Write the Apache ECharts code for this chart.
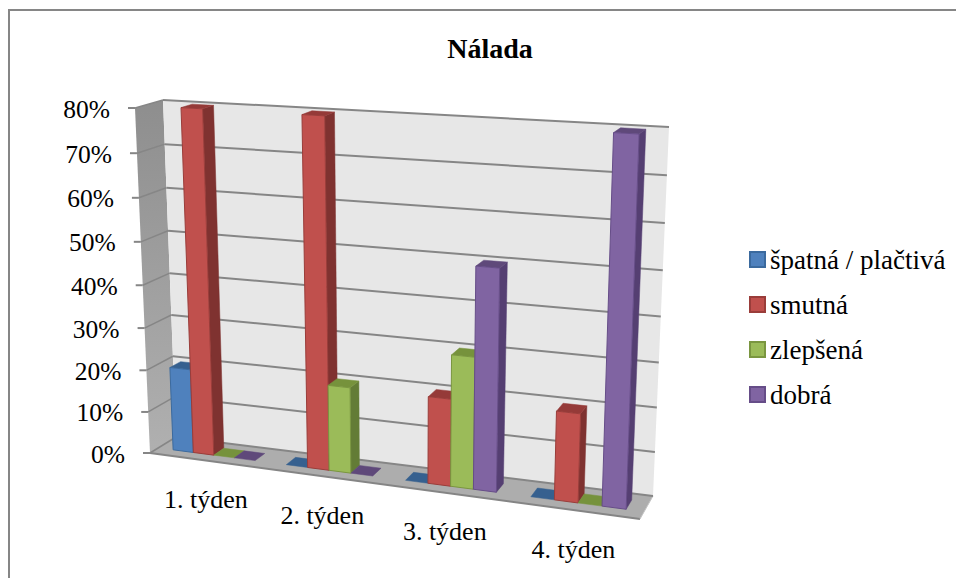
<!DOCTYPE html>
<html>
<head>
<meta charset="utf-8">
<style>html,body{margin:0;padding:0;background:#fff}#chart{width:956px;height:578px}</style>
<script src="https://cdn.jsdelivr.net/npm/echarts@6/dist/echarts.min.js"></script>
</head>
<body>
<div id="chart"></div>
<script>
// Share of patients per mood, per week
const categories = ['1. týden', '2. týden', '3. týden', '4. týden'];
const yTicks = [0, 10, 20, 30, 40, 50, 60, 70, 80];
const spatna = [20, 0, 0, 0];
const smutna = [80, 80, 20, 20];
const zlepsena = [0, 20, 30, 0];
const dobra = [0, 0, 50, 80];

const moods = [
  { name: 'špatná / plačtivá', values: spatna, front: '#4F81BD', side: '#3A6391', top: '#36608F', edge: '#3B6A9E' },
  { name: 'smutná', values: smutna, front: '#C0504D', side: '#7F3230', top: '#953A38', edge: '#9A3D3A' },
  { name: 'zlepšená', values: zlepsena, front: '#9BBB59', side: '#637C36', top: '#76923C', edge: '#7A9640' },
  { name: 'dobrá', values: dobra, front: '#8064A2', side: '#553F72', top: '#5F497A', edge: '#664D88' }
];

const FONT = '"Liberation Serif", "Times New Roman", serif';

// Corners of the 3D box, projected: front plane and back plane
const frontPlane = { bl: [150, 453], br: [640, 519], tl: [135, 108], tr: [653, 139] };
const backPlane = { bl: [176, 437], br: [653, 496], tl: [163, 100], tr: [669, 127] };
const BAR_DEPTH = [0.32, 0.73];
const GAP_SHARE = 0.27;

const mix = (a, b, k) => [a[0] + (b[0] - a[0]) * k, a[1] + (b[1] - a[1]) * k];
const warpU = u => u - 0.1 * u * (1 - u);
const warpT = t => t - 0.055 * t * (1 - t);

// u across the categories, t up the value axis, d from front to back (all 0..1)
function project(u, t, d) {
  const U = warpU(u), T = warpT(t);
  const onPlane = p => mix(mix(p.bl, p.br, U), mix(p.tl, p.tr, U), T);
  return mix(onPlane(frontPlane), onPlane(backPlane), d);
}

// Normalised position of a data point inside the hidden cartesian grid
function toUnit(params, api, cat, val) {
  const c = params.coordSys;
  const p = api.coord([cat, val]);
  return { u: (p[0] - c.x) / c.width, t: (c.y + c.height - p[1]) / c.height };
}

const poly = (points, fill, stroke, lineWidth) => ({
  type: 'polygon', silent: true, shape: { points },
  style: { fill, stroke: stroke || fill, lineWidth: lineWidth === undefined ? 1 : lineWidth }
});
const line = (a, b, stroke, lineWidth) => ({
  type: 'line', silent: true, shape: { x1: a[0], y1: a[1], x2: b[0], y2: b[1] },
  style: { stroke, lineWidth }
});
const label = (text, x, y, align, size) => ({
  type: 'text', silent: true,
  style: { text, x, y, fill: '#000', font: size + 'px ' + FONT, textAlign: align, textVerticalAlign: 'middle' }
});

function renderBox() {
  const P = project;
  return {
    type: 'group',
    children: [
      poly([P(0, 0, 0), P(0, 1, 0), P(0, 1, 1), P(0, 0, 1)], {
        type: 'linear', x: 0, y: 0, x2: 0, y2: 1,
        colorStops: [{ offset: 0, color: '#8E8E8E' }, { offset: 1, color: '#B0B0B0' }]
      }, 'none', 0),
      poly([P(0, 0, 1), P(1, 0, 1), P(1, 1, 1), P(0, 1, 1)], '#E7E7E7', 'none', 0),
      poly([P(0, 0, 0), P(1, 0, 0), P(1, 0, 1), P(0, 0, 1)], '#ADADAD', 'none', 0),
      line(P(0, 0, 0), P(1, 0, 0), '#858585', 2),
      line(P(1, 0, 0), P(1, 0, 1), '#C4C4C4', 1)
    ]
  };
}

function renderGrid(params, api) {
  const { t } = toUnit(params, api, 0, api.value(1));
  const P = project;
  const a = P(0, t, 0);
  return {
    type: 'group',
    children: [
      line(P(0, t, 1), P(1, t, 1), '#868686', 2),
      line(a, P(0, t, 1), '#868686', 1.5),
      line([a[0] - 7, a[1]], a, '#868686', 2),
      label(api.value(1) + '%', a[0] - 25, a[1] + 1, 'right', 25.5)
    ]
  };
}

function renderCategory(params, api) {
  const cat = api.value(0);
  const { u } = toUnit(params, api, cat, 0);
  const p = project(u, 0, 0);
  return label(categories[cat], p[0], p[1] + 39, 'center', 26);
}

function barRenderer(index, mood) {
  return function (params, api) {
    const cat = api.value(0);
    const { u: centre, t } = toUnit(params, api, cat, api.value(1));
    const band = api.size([1, 0])[0] / params.coordSys.width;
    const barW = band * (1 - GAP_SHARE) / moods.length;
    const u0 = centre - band * (1 - GAP_SHARE) / 2 + barW * index;
    const u1 = u0 + barW;
    const [d0, d1] = BAR_DEPTH;
    const P = project;
    const children = [];
    if (t > 0) {
      children.push(poly([P(u1, 0, d0), P(u1, t, d0), P(u1, t, d1), P(u1, 0, d1)], mood.side, mood.side, 0.5));
    }
    children.push(poly([P(u0, t, d0), P(u1, t, d0), P(u1, t, d1), P(u0, t, d1)], mood.top, mood.top, 0.5));
    if (t > 0) {
      children.push(poly([P(u0, 0, d0), P(u1, 0, d0), P(u1, t, d0), P(u0, t, d0)], mood.front, mood.edge, 1));
    }
    return { type: 'group', children };
  };
}

const chart = echarts.init(document.getElementById('chart'), null, { renderer: 'svg' });
chart.setOption({
  animation: false,
  backgroundColor: '#fff',
  title: {
    text: 'Nálada', left: 490, top: 34, textAlign: 'center', padding: 0,
    textStyle: { fontFamily: FONT, fontWeight: 'bold', fontSize: 28, color: '#000' }
  },
  legend: {
    orient: 'vertical', left: 749, top: 245, padding: 0, icon: 'rect',
    itemWidth: 15, itemHeight: 15, itemGap: 16, selectedMode: false,
    data: moods.map(m => m.name),
    textStyle: { fontFamily: FONT, fontSize: 27, color: '#000', lineHeight: 29 }
  },
  graphic: [{
    type: 'polyline', silent: true, z: 100,
    shape: { points: [[9, 600], [9, 10], [970, 10]] },
    style: { fill: 'none', stroke: '#868686', lineWidth: 2 }
  }],
  grid: { left: 150, top: 108, width: 490, height: 345 },
  xAxis: { type: 'category', data: categories, show: false },
  yAxis: { type: 'value', min: 0, max: 80, interval: 10, show: false },
  series: [
    { type: 'custom', name: 'box', renderItem: renderBox, data: [[0, 0]], encode: { x: 0, y: 1 } },
    { type: 'custom', name: 'mřížka', renderItem: renderGrid, data: yTicks.map(v => [0, v]), encode: { x: 0, y: 1 } },
    { type: 'custom', name: 'týdny', renderItem: renderCategory, data: categories.map(c => [c, 0]), encode: { x: 0, y: 1 } }
  ].concat(moods.map((m, i) => ({
    type: 'custom',
    name: m.name,
    itemStyle: { color: m.front, borderColor: m.edge, borderWidth: 1 },
    renderItem: barRenderer(i, m),
    data: m.values.map((v, c) => [categories[c], v]),
    encode: { x: 0, y: 1 }
  })))
});
</script>
</body>
</html>
